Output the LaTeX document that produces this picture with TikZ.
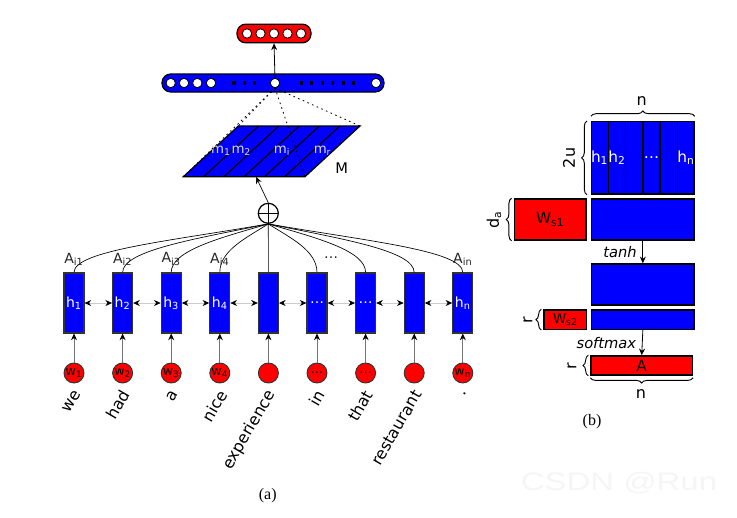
\documentclass[tikz,border=0pt]{standalone}
\usepackage{fontspec}
\setmainfont{DejaVu Sans}
\newfontfamily\capfont{Liberation Serif}
\newfontfamily\markfont{Liberation Sans}
\usetikzlibrary{arrows.meta,decorations.pathreplacing,calc}

\begin{document}
\begin{tikzpicture}[x=0.75pt,y=0.75pt,
    hid/.style={draw=black!80, fill=blue, line width=0.8pt, minimum width=15pt,
      minimum height=45pt, inner sep=0pt, text=white, font=\fontsize{10.5}{12}\selectfont},
    wrd/.style={circle, draw=black!80, fill=red, line width=0.7pt, minimum size=15pt,
      inner sep=0pt, font=\fontsize{9.5}{10}\selectfont},
    tok/.style={rotate=60, anchor=east, inner sep=0pt, font=\fontsize{12}{14}\selectfont},
    att/.style={inner sep=0pt, text=black!85, font=\fontsize{10.5}{12}\selectfont},
    tip/.style={-{Stealth[length=5pt,width=4.5pt,color=black]}},
    dtip/.style={{Stealth[length=5pt,width=4.5pt,color=black]}-{Stealth[length=5pt,width=4.5pt,color=black]}},
    vec/.style={draw, rounded corners=6.5pt, line width=0.9pt, inner sep=0pt},
    vcirc/.style={circle, draw, fill=white, line width=0.6pt, minimum size=7pt, inner sep=0pt},
    vdot/.style={fill=black, minimum size=2.4pt, inner sep=0pt},
    mat/.style={draw, line width=1.1pt, inner sep=0pt, font=\fontsize{11.5}{13}\selectfont},
    brc/.style={decorate, decoration={brace, amplitude=4pt}, line width=0.7pt},
    dim/.style={inner sep=0pt, font=\fontsize{12}{14}\selectfont}
  ]
  \useasboundingbox (0,0) rectangle (737,-517);

  % (a): words, hidden states and attention
  \def \n {9}
  \def \dx {48.6}
  \foreach \k/\hl/\wl/\word in {1/{h\textsubscript{1}}/{w\textsubscript{1}}/we,
      2/{h\textsubscript{2}}/{w\textsubscript{2}}/had, 3/{h\textsubscript{3}}/{w\textsubscript{3}}/a,
      4/{h\textsubscript{4}}/{w\textsubscript{4}}/nice, 5/{}/{}/experience, 6/{\dots}/{\dots}/in,
      7/{\dots}/{\dots}/that, 8/{}/{}/restaurant, 9/{h\textsubscript{n}}/{w\textsubscript{n}}/.}
  {
    \node[hid] (h\k) at ({74+(\k-1)*\dx},-303) {\hl};
    \node[wrd] (w\k) at ({74+(\k-1)*\dx},-373) {\wl};
    \node[tok] at ([xshift=2.5pt, yshift=-6pt]w\k.south) {\word};
    \draw[tip, draw=black!55, line width=0.6pt] (w\k) -- (h\k);
  }
  \foreach \k [count=\j from 2] in {1,...,8}
    \draw[dtip, draw=black!20, line width=0.5pt] (h\k) -- (h\j);

  \node[circle, draw, line width=0.9pt, minimum size=15pt, inner sep=0pt] (plus) at (268.3,-213.3) {};
  \draw[line width=0.8pt] (plus.north) -- (plus.south) (plus.west) -- (plus.east);
  \foreach \k/\cx/\cy in {1/-97/-17, 2/-73/-15, 3/-48/-14, 4/-22/-14,
      6/22/-14, 7/48/-14, 8/73/-15, 9/97/-17}
    \draw[line width=0.5pt] (h\k.north) .. controls +(0,22) and +(\cx,\cy) .. (plus.south);
  \draw[line width=0.5pt] (h5.north) -- (plus.south);

  \foreach \k/\l in {1/{A\textsubscript{i1}}, 2/{A\textsubscript{i2}}, 3/{A\textsubscript{i3}},
      4/{A\textsubscript{i4}}, 9/{A\textsubscript{in}}}
    \node[att, anchor=south] at ([yshift=5pt]h\k.north) {\l};
  \node[att] at (331,-258) {\dots};

  % matrix M
  \coordinate (M1) at (183.3,-176.7);
  \coordinate (M2) at (305,-176.7);
  \coordinate (M3) at (360,-126);
  \coordinate (M4) at (238.3,-126);
  \filldraw[fill=blue, line width=0.9pt] (M1) -- (M2) -- (M3) -- (M4) -- cycle;
  \foreach \s in {1,...,5}
    \draw[line width=0.9pt] ($(M1)!\s/6!(M2)$) -- ($(M4)!\s/6!(M3)$);
  \foreach \x/\l in {221/{m\textsubscript{1}}, 241.3/{m\textsubscript{2}},
      281.9/{m\textsubscript{i}}, 322.5/{m\textsubscript{r}}}
    \node[text=white!85!black, font=\fontsize{10}{12}\selectfont] at (\x,-151) {\l};
  \node[font=\fontsize{11}{13}\selectfont] at (341.7,-168) {M};
  \coordinate (Min) at (256,-177);
  \draw[tip, line width=0.5pt] (plus.north) -- (Min);

  % sentence vector and output
  \node[vec, fill=blue, minimum width=166.5pt, minimum height=13.5pt] (sv) at (273,-83) {};
  \foreach \x in {170.7,184,197.3,211,376}
    \node[vcirc] at (\x,-83) {};
  \node[vcirc] (mid) at (275,-83) {};
  \foreach \x in {234,244.3,254.3,301.7,311.7,322.3,332.7,343.3,353.3}
    \node[vdot] at (\x,-83) {};
  \node[vec, fill=red, minimum width=55.5pt, minimum height=14pt] (out) at (274,-33.5) {};
  \foreach \x in {247,260.5,274,287.5,301}
    \node[vcirc] at (\x,-33.5) {};
  \draw[tip, line width=0.6pt] (mid.north) -- (out.south);
  \foreach \c in {M1,M2,M3,M4}
    \draw[line width=0.6pt, dash pattern=on 1.2pt off 2.6pt] (mid.south) -- (\c);

  \node[font=\capfont\fontsize{12}{14}\selectfont] at (267.7,-495.7) {(a)};

  % (b): the matrices
  \node[mat, fill=blue, minimum width=76.7pt, minimum height=54.2pt] (H) at (642.85,-157.85) {};
  \foreach \s in {1,...,5}
    \draw[line width=1.1pt] ($(H.north west)!\s/6!(H.north east)$) -- ($(H.south west)!\s/6!(H.south east)$);
  \foreach \f/\l in {0.0833/{h\textsubscript{1}}, 0.25/{h\textsubscript{2}},
      0.5833/{\dots}, 0.9167/{h\textsubscript{n}}}
    \node[text=white, font=\fontsize{11.5}{13}\selectfont] at ($(H.west)!\f!(H.east)$) {\l};
  \node[mat, fill=red, minimum width=53.8pt, minimum height=30.75pt] (Ws1) at (550.15,-219.5) {W\textsubscript{s1}};
  \node[mat, fill=blue, minimum width=76.7pt, minimum height=30.75pt] (HW) at (642.85,-219.5) {};
  \node[mat, fill=blue, minimum width=76.7pt, minimum height=30.75pt] (T) at (642.85,-284.5) {};
  \node[mat, fill=red, minimum width=32pt, minimum height=14.5pt,
    font=\fontsize{10}{12}\selectfont] (Ws2) at (565.35,-319.65) {W\textsubscript{s2}};
  \node[mat, fill=blue, minimum width=76.7pt, minimum height=14.5pt] (T2) at (642.85,-319.65) {};
  \node[mat, fill=red, minimum width=76pt, minimum height=14.25pt] (A) at (641.7,-365.5) {A};

  \draw[tip, line width=0.6pt] (HW.south) -- (T.north)
    node[midway, left=1pt, font=\itshape\fontsize{11}{13}\selectfont] {tanh};
  \draw[tip, line width=0.6pt] (T2.south) -- (A.north)
    node[midway, left=1pt, font=\itshape\fontsize{11}{13}\selectfont] {softmax};

  % braces
  \draw[brc] ([yshift=3.5pt]H.north west) -- ([yshift=3.5pt]H.north east);
  \node[dim] at (641.7,-101) {n};
  \draw[brc] ([xshift=-3pt]H.south west) -- ([xshift=-3pt]H.north west);
  \node[dim, rotate=90] at (569,-158) {2u};
  \draw[brc] ([xshift=-1.5pt]Ws1.south west) -- ([xshift=-1.5pt]Ws1.north west);
  \node[dim, rotate=90] at (494,-220) {d\textsubscript{a}};
  \draw[brc] ([xshift=-1.5pt]Ws2.south west) -- ([xshift=-1.5pt]Ws2.north west);
  \node[dim, rotate=90] at (528,-320) {r};
  \draw[brc] ([xshift=-1.5pt]A.south west) -- ([xshift=-1.5pt]A.north west);
  \node[dim, rotate=90] at (572,-366) {r};
  \draw[brc] ([yshift=-1.5pt]A.south east) -- ([yshift=-1.5pt]A.south west);
  \node[dim] at (641,-394) {n};

  \node[font=\capfont\fontsize{12}{14}\selectfont] at (592,-421.7) {(b)};
  \node[text=black!4, font=\markfont\fontsize{19}{22}\selectfont] at (619,-483) {\scalebox{1.3}[1]{CSDN @Run}};
\end{tikzpicture}
\end{document}
